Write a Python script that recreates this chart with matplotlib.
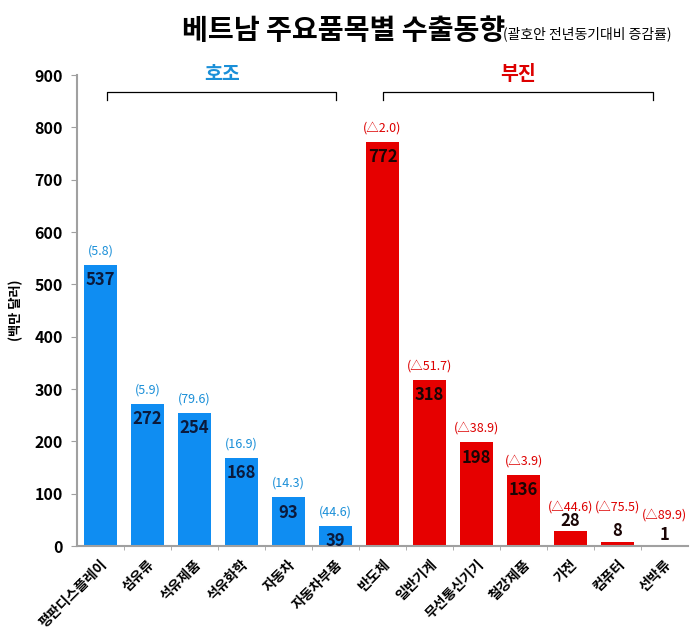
import matplotlib
matplotlib.use("Agg")
import matplotlib.pyplot as plt

plt.rcParams["font.family"] = ["Noto Sans CJK KR", "DejaVu Sans"]

# data
items = ["평판디스플레이", "섬유류", "석유제품", "석유화학", "자동차", "자동차부품",
         "반도체", "일반기계", "무선통신기기", "철강제품", "가전", "컴퓨터", "선박류"]
exports = [537, 272, 254, 168, 93, 39, 772, 318, 198, 136, 28, 8, 1]
change = ["(5.8)", "(5.9)", "(79.6)", "(16.9)", "(14.3)", "(44.6)",
          "(△2.0)", "(△51.7)", "(△38.9)", "(△3.9)", "(△44.6)", "(△75.5)", "(△89.9)"]
n_good = 6  # first six are 호조, the rest 부진

BLUE = "#0F8DF2"
RED = "#E60000"

fig = plt.figure(figsize=(6.96, 6.42), dpi=100)
ax = fig.add_axes([0.1106, 0.1495, 0.878, 0.7336])

x = list(range(len(items)))
colors = [BLUE if i < n_good else RED for i in x]
ax.bar(x, exports, width=0.72, color=colors, zorder=2)

ax.set_xlim(-0.5, len(items) - 0.5)
ax.set_ylim(0, 900)
ax.set_yticks(range(0, 901, 100))
ax.tick_params(axis="y", length=4, color="#a0a0a0", labelsize=11.5, pad=6)
for lab in ax.get_yticklabels():
    lab.set_fontweight("bold")

ax.set_xticks(x)
ax.set_xticklabels(items, rotation=45, ha="right", rotation_mode="anchor",
                   fontsize=10, fontweight="bold")
ax.set_xticks([i + 0.5 for i in x[:-1]], minor=True)
ax.tick_params(axis="x", which="major", length=0, pad=8)
ax.tick_params(axis="x", which="minor", length=3, color="#a0a0a0")

for s in ["top", "right"]:
    ax.spines[s].set_visible(False)
for s in ["left", "bottom"]:
    ax.spines[s].set_color("#a0a0a0")
    ax.spines[s].set_linewidth(1.5)

ax.set_ylabel("(백만 달러)", fontsize=9.5, fontweight="bold", labelpad=8)

# value and change labels
for i, v in enumerate(exports):
    good = i < n_good
    pct_col = "#1a8fd8" if good else "#dd0000"
    val_col = "#0b1a3c" if good else "#1a0505"
    if v >= 35:
        ax.annotate(str(v), (i, v), xytext=(0, -11), textcoords="offset points",
                    ha="center", va="center", fontsize=12, fontweight="bold",
                    color=val_col)
        ax.annotate(change[i], (i, v), xytext=(0, 10), textcoords="offset points",
                    ha="center", va="center", fontsize=9, color=pct_col)
    else:
        # small bars: value sits just above the bar
        ax.annotate(str(v), (i, v), xytext=(0, 7.5), textcoords="offset points",
                    ha="center", va="center", fontsize=12, fontweight="bold",
                    color=val_col)
        py = 59 if i == len(items) - 1 else 75
        ax.text(i, py, change[i], ha="center", va="center", fontsize=9,
                color=pct_col)

# group brackets
def bracket(x0, x1, label, col):
    y = 868
    ax.plot([x0, x0, x1, x1], [y - 15, y, y, y - 15], color="black", lw=0.9,
            clip_on=False)
    ax.text((x0 + x1) / 2, 902, label, ha="center", va="center", fontsize=14,
            fontweight="bold", color=col, clip_on=False)

bracket(0.14, 5.02, "호조", "#1a8fd8")
bracket(6.02, 11.76, "부진", "#dd0000")

# title
fig.text(0.262, 0.94, "베트남 주요품목별 수출동향", fontsize=20.3, fontweight="bold",
         ha="left", va="baseline")
fig.text(0.723, 0.94, "(괄호안 전년동기대비 증감률)", fontsize=10,
         ha="left", va="baseline")

fig.savefig("out.png", dpi=100)
